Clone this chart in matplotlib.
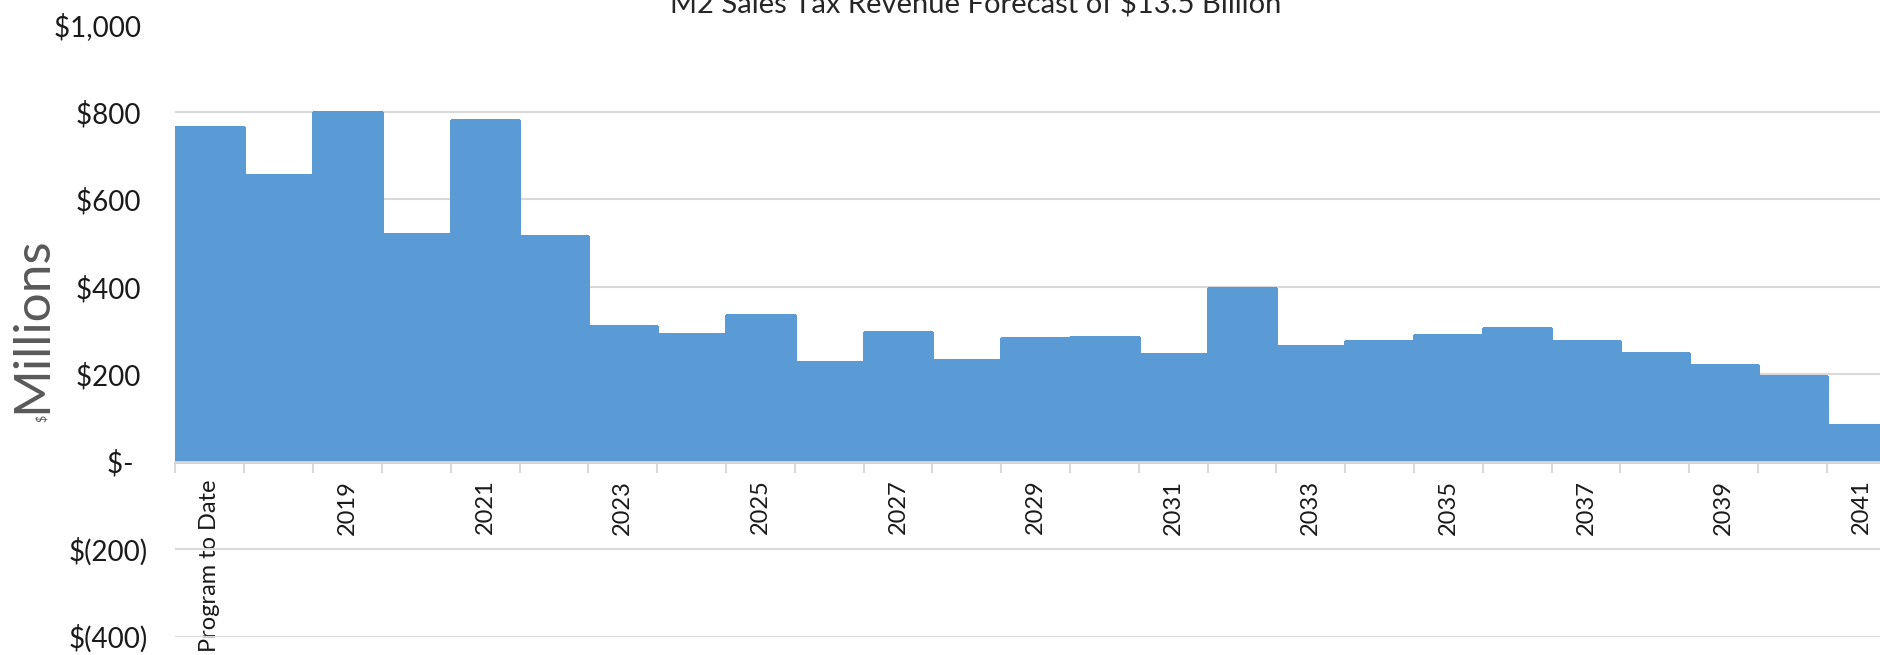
import matplotlib
matplotlib.use("Agg")
import matplotlib.pyplot as plt
import numpy as np

# bar categories (every other one gets a label on the axis)
categories = ["Program to Date"] + [str(y) for y in range(2018, 2042)]
# revenue, $ millions
revenue = [765, 655, 800, 520, 781, 517, 310, 292, 336, 227, 296, 233, 283,
           285, 247, 398, 265, 276, 289, 306, 276, 248, 220, 195, 84]
tick_labels = [c if i % 2 == 0 else "" for i, c in enumerate(categories)]

y_ticks = [1000, 800, 600, 400, 200, 0, -200, -400]
y_tick_labels = ["$1,000 ", "$800 ", "$600 ", "$400 ", "$200 ", "$-  ", "$(200)", "$(400)"]

title = "M2 Sales Tax Revenue Forecast of $13.5 Billion"

plt.rcParams['font.family'] = ['Lato', 'DejaVu Sans']

fig = plt.figure(figsize=(18.81, 6.55), dpi=100)
# axes run a little past the right edge, the source image is cropped there
ax = fig.add_axes([175.5 / 1881, 18.5 / 655, 1720 / 1881, 612 / 655])

x = np.arange(len(categories))
# no antialiasing + a same-colour edge so neighbouring bars merge cleanly
ax.bar(x, revenue, width=1.0, color="#5B9BD5", edgecolor="#5B9BD5",
       linewidth=1.0, antialiased=False, zorder=2)

ax.set_xlim(-0.5, len(categories) - 0.5)
ax.set_ylim(-400, 1000)

ax.set_yticks(y_ticks)
ax.set_yticklabels(y_tick_labels, fontsize=20, color="#1a1a1a")
ax.tick_params(axis="y", length=0, pad=20)
ax.grid(axis="y", color="#D9D9D9", linewidth=1.5, zorder=0)
ax.set_axisbelow(True)

# category axis sits on the zero line
for s in ["top", "right", "left"]:
    ax.spines[s].set_visible(False)
ax.spines["bottom"].set_position(("data", 0))
ax.spines["bottom"].set_color("#D9D9D9")
ax.spines["bottom"].set_linewidth(2)
ax.spines["bottom"].set_zorder(3)

ax.set_xticks(x)
ax.set_xticklabels(tick_labels, rotation=90, fontsize=17, color="#1a1a1a")
ax.tick_params(axis="x", length=0, pad=13)
ax.set_xticks(np.arange(len(categories) + 1) - 0.5, minor=True)
ax.tick_params(axis="x", which="minor", length=8, width=1.5, color="#D9D9D9")

fig.text(32 / 1881, 330 / 655, "Millions", rotation=90, fontsize=37,
         color="#595959", ha="center", va="center")
fig.text(42 / 1881, 237 / 655, "$", rotation=90, fontsize=9,
         color="#595959", ha="center", va="center")

fig.text(976 / 1881, 1 - 12 / 655, title, fontsize=21, color="#262626",
         ha="center", va="baseline")

fig.savefig("out.png", dpi=100)
